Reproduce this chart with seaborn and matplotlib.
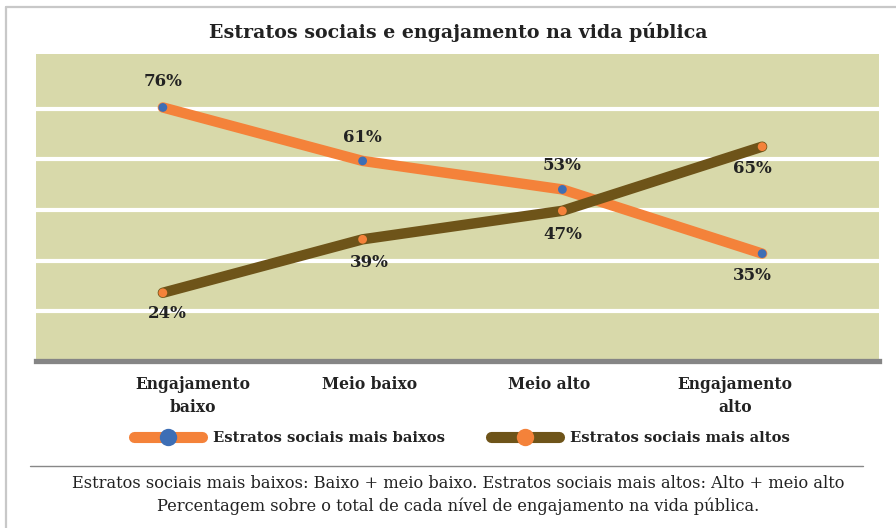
import matplotlib
matplotlib.use("Agg")
import matplotlib.pyplot as plt
from matplotlib.lines import Line2D
import seaborn as sns
import pandas as pd

# ---- data ----
categories = ["Engajamento\nbaixo", "Meio baixo", "Meio alto", "Engajamento\nalto"]
series_names = ["Estratos sociais mais baixos", "Estratos sociais mais altos"]
lower_values = [76, 61, 53, 35]
upper_values = [24, 39, 47, 65]
grid_levels = [18.8, 33.0, 47.2, 61.4, 75.6]

title = "Estratos sociais e engajamento na vida pública"
note_lines = [
    "Estratos sociais mais baixos: Baixo + meio baixo. Estratos sociais mais altos: Alto + meio alto",
    "Percentagem sobre o total de cada nível de engajamento na vida pública.",
]

# ---- styles ----
BG = "#D8D9AA"
ORANGE = "#F4823A"
BROWN = "#6E5419"
BLUE = "#3D6EB5"
GRAYBAR = "#858585"
TXT = "#222222"
FONT = "DejaVu Serif"

sns.set_theme(style="white")
plt.rcParams["font.family"] = [FONT]

df = pd.DataFrame({
    "x": list(range(len(categories))) * 2,
    "value": lower_values + upper_values,
    "serie": [series_names[0]] * len(lower_values) + [series_names[1]] * len(upper_values),
})

fig = plt.figure(figsize=(8.96, 5.28), dpi=100)
fig.patch.set_facecolor("white")
ax = fig.add_axes([36 / 896, 1 - 360.5 / 528, 843 / 896, 306.5 / 528])
ax.set_facecolor(BG)

line_colors = {series_names[0]: ORANGE, series_names[1]: BROWN}
marker_colors = {series_names[0]: BLUE, series_names[1]: ORANGE}

sns.lineplot(data=df, x="x", y="value", hue="serie", palette=line_colors,
             linewidth=7.5, ax=ax, legend=False, sort=False,
             solid_capstyle="round", solid_joinstyle="round", zorder=3)
sns.scatterplot(data=df, x="x", y="value", hue="serie", palette=marker_colors,
                s=40, linewidth=0, ax=ax, legend=False, zorder=4)

ax.set_xlim(-0.635, 3.585)
ax.set_ylim(5, 91)
ax.set_yticks(grid_levels)
ax.set_yticklabels([])
ax.yaxis.grid(True, color="white", linewidth=3.0)
ax.set_axisbelow(True)
ax.tick_params(axis="both", length=0)
ax.set_xlabel("")
ax.set_ylabel("")

ax.set_xticks([0.15, 1.035, 1.935, 2.865])
ax.set_xticklabels(categories, fontsize=11.2, fontweight="bold", color=TXT,
                   linespacing=1.45)
ax.tick_params(axis="x", pad=11)

for s in ["top", "right", "left"]:
    ax.spines[s].set_visible(False)
ax.spines["bottom"].set_color(GRAYBAR)
ax.spines["bottom"].set_linewidth(3.8)

# value labels
lower_offsets = [19, 17, 17, -16]
upper_offsets = [-15, -17, -17, -16]
lower_dx = [0, 0, 0, -7]
upper_dx = [3, 5, 0, -7]
for i, v in enumerate(lower_values):
    ax.annotate(f"{v}%", (i, v), xytext=(lower_dx[i], lower_offsets[i]),
                textcoords="offset points", ha="center", va="center",
                fontsize=12, fontweight="bold", color=TXT, zorder=5)
for i, v in enumerate(upper_values):
    ax.annotate(f"{v}%", (i, v), xytext=(upper_dx[i], upper_offsets[i]),
                textcoords="offset points", ha="center", va="center",
                fontsize=12, fontweight="bold", color=TXT, zorder=5)

# title
fig.text(458 / 896, 1 - 32 / 528, title, ha="center", va="center",
         fontsize=13.7, fontweight="bold", color=TXT)

# legend
handles = [
    Line2D([0], [0], color=ORANGE, linewidth=8, solid_capstyle="round",
           marker="o", markersize=12.5, markerfacecolor=BLUE, markeredgewidth=0),
    Line2D([0], [0], color=BROWN, linewidth=8, solid_capstyle="round",
           marker="o", markersize=12.5, markerfacecolor=ORANGE, markeredgewidth=0),
]
leg = fig.legend(handles, series_names, loc="center", ncol=2,
                 bbox_to_anchor=(462 / 896, 1 - 438 / 528), frameon=False,
                 prop={"family": FONT, "weight": "bold", "size": 10.6},
                 handlelength=4.6, handletextpad=0.75, columnspacing=3.15,
                 numpoints=1)
for t in leg.get_texts():
    t.set_color(TXT)

# separator line
fig.add_artist(Line2D([30 / 896, 863 / 896], [1 - 466 / 528, 1 - 466 / 528],
                      color="#888888", linewidth=1.0, transform=fig.transFigure))

# notes
fig.text(458 / 896, 1 - 483 / 528, note_lines[0], ha="center", va="center",
         fontsize=11.7, color=TXT)
fig.text(458 / 896, 1 - 506 / 528, note_lines[1], ha="center", va="center",
         fontsize=11.7, color=TXT)

# frame lines
fig.add_artist(Line2D([6 / 896, 6 / 896], [0, 1 - 7 / 528], color="#C8C8C8",
                      linewidth=1.6, transform=fig.transFigure))
fig.add_artist(Line2D([6 / 896, 1], [1 - 7 / 528, 1 - 7 / 528], color="#C8C8C8",
                      linewidth=1.6, transform=fig.transFigure))

fig.savefig("out.png", dpi=100, facecolor="white")
